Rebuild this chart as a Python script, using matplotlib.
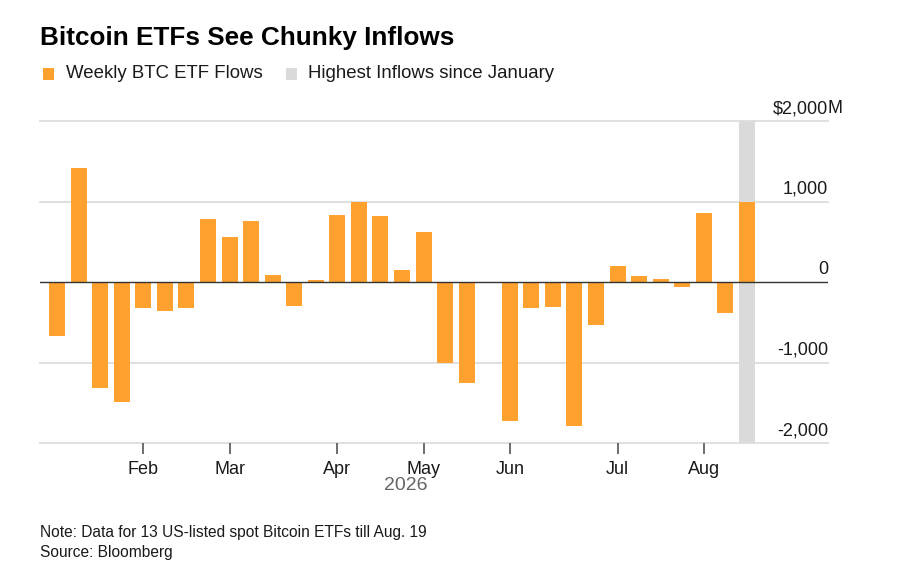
import matplotlib
matplotlib.use("Agg")
import matplotlib.pyplot as plt
from matplotlib.patches import Rectangle
import numpy as np
import pandas as pd

# ---- data ----
week_dates = pd.date_range("2026-01-05", periods=33, freq="7D")  # week starting
flows = [-670, 1420, -1320, -1490, -320, -360, -320, 785, 565, 760, 90, -300,
         20, 830, 1000, 820, 150, 615, -1005, -1255, 0, -1725, -320, -315,
         -1795, -530, 195, 70, 33, -62, 855, -390, 1000]
highlight_index = 32
y_ticks = [2000, 1000, 0, -1000, -2000]
y_labels = ["$2,000", "1,000", "0", "-1,000", "-2,000"]
y_unit = "M"
year_label = "2026"

ORANGE = "#FFA12E"
GRAY_BAND = "#DADADA"
GRID = "#DDDDDD"
TEXT = "#1a1a1a"

plt.rcParams["font.family"] = ["Liberation Sans", "DejaVu Sans"]

fig = plt.figure(figsize=(9, 5.85), dpi=100)
ax = fig.add_axes([40 / 900, 1 - 443 / 585, (828 - 40) / 900, (443 - 121) / 585])

x = np.arange(len(flows))
bar_w = 0.742
# highlight band
ax.bar([x[highlight_index]], [4000], bottom=-2000, width=bar_w, color=GRAY_BAND,
       zorder=0, linewidth=0)
# bars
ax.bar(x, flows, width=bar_w, color=ORANGE, zorder=2, linewidth=0)

ax.set_ylim(-2000, 2000)
ax.set_xlim(-0.79, 35.76)

for yv in y_ticks:
    if yv == 0:
        ax.axhline(0, color="#333333", lw=1.0, zorder=3)
    else:
        ax.axhline(yv, color=GRID, lw=1.3, zorder=1, clip_on=False)

for s in ax.spines.values():
    s.set_visible(False)
ax.set_yticks([])

# ticks at the first week of each month (Feb onward)
months = week_dates.month
tick_pos = [i for i in range(1, len(week_dates)) if months[i] != months[i - 1]]
tick_lab = [week_dates[i].strftime("%b") for i in tick_pos]
ax.set_xticks(tick_pos)
ax.set_xticklabels(tick_lab, fontsize=13, color=TEXT)
ax.tick_params(axis="x", length=8, width=1.2, color="#555555", pad=5)

for k, (yv, lab) in enumerate(zip(y_ticks, y_labels)):
    ax.annotate(lab, xy=(1.0, yv), xycoords=ax.get_yaxis_transform(),
                xytext=(0, 8), textcoords="offset pixels", annotation_clip=False,
                ha="right", va="baseline", fontsize=13, color=TEXT)
    if k == 0:
        ax.annotate(y_unit, xy=(1.0, yv), xycoords=ax.get_yaxis_transform(),
                    xytext=(0, 8), textcoords="offset pixels", annotation_clip=False,
                    ha="left", va="baseline", fontsize=13, color=TEXT)

fig.text(406 / 900, 1 - 486 / 585, year_label, ha="center", va="center",
         fontsize=14, color="#666666")

# title & legend
fig.text(40 / 900, 1 - 38 / 585, "Bitcoin ETFs See Chunky Inflows", ha="left",
         va="center", fontsize=18.8, fontweight="bold", color="#000000")
for (x0, tx, col, lab) in [(43, 66, ORANGE, "Weekly BTC ETF Flows"),
                           (286, 308, GRAY_BAND, "Highest Inflows since January")]:
    fig.patches.append(Rectangle((x0 / 900, 1 - 80 / 585), 11 / 900, 12 / 585,
                                 transform=fig.transFigure, color=col, lw=0))
    fig.text(tx / 900, 1 - 73 / 585, lab, ha="left", va="center",
             fontsize=13.4, color=TEXT)

fig.text(40 / 900, 1 - 533 / 585, "Note: Data for 13 US-listed spot Bitcoin ETFs till Aug. 19",
         ha="left", va="center", fontsize=11.2, color=TEXT)
fig.text(40 / 900, 1 - 552 / 585, "Source: Bloomberg",
         ha="left", va="center", fontsize=11.2, color=TEXT)

fig.savefig("out.png", dpi=100, facecolor="white")
